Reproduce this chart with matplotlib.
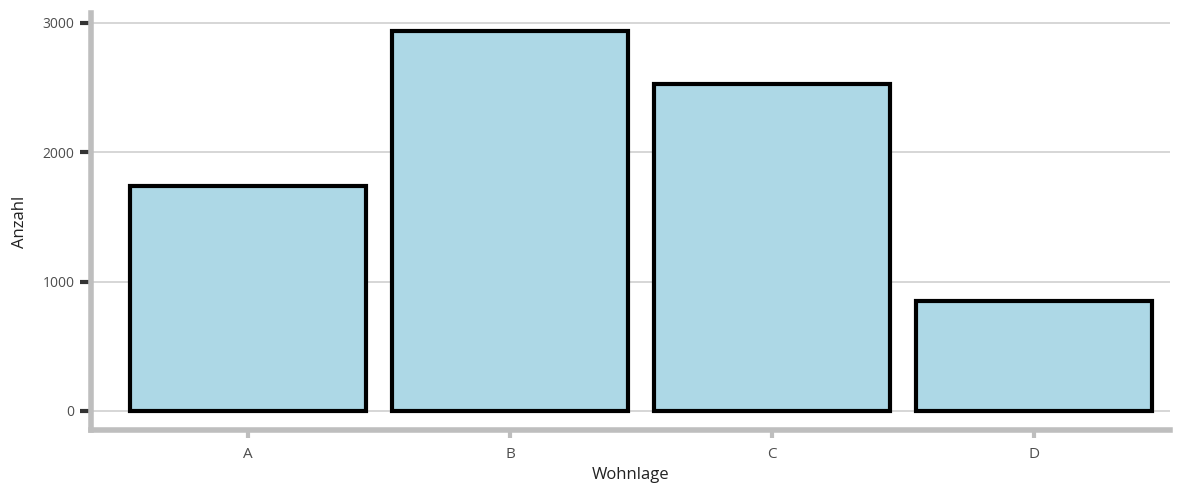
import matplotlib
matplotlib.use("Agg")
import matplotlib.pyplot as plt

categories = ["A", "B", "C", "D"]
counts = [1740, 2940, 2530, 850]
y_ticks = [0, 1000, 2000, 3000]

plt.rcParams['font.family'] = ['Open Sans', 'DejaVu Sans']

fig = plt.figure(figsize=(11.83, 4.86), dpi=100)
ax = fig.add_axes([91 / 1183, 1 - 430 / 486, (1170 - 91) / 1183, (430 - 13) / 486])

x = range(len(categories))
ax.bar(x, counts, width=0.9, color="#add8e6", edgecolor="black", linewidth=3, zorder=3)

ax.set_xlim(-0.6, 3.52)
ax.set_ylim(-147, 3077)
ax.set_xticks(list(x))
ax.set_xticklabels(categories)
ax.set_yticks(y_ticks)
ax.grid(axis="y", color="#d0d0d0", linewidth=1.2, zorder=0)

for side in ["top", "right"]:
    ax.spines[side].set_visible(False)
for side in ["left", "bottom"]:
    ax.spines[side].set_color("#bebebe")
    ax.spines[side].set_linewidth(4)

ax.tick_params(axis="y", length=8, width=3, color="#333333", labelcolor="#4d4d4d",
               labelsize=10, pad=4)
ax.tick_params(axis="x", length=6, width=3, color="#bebebe", labelcolor="#4d4d4d",
               labelsize=11, pad=6)

ax.set_xlabel("Wohnlage", fontsize=12, color="#222222", labelpad=4)
ax.set_ylabel("Anzahl", fontsize=12, color="#222222", labelpad=10)

fig.savefig("out.png", dpi=100)
